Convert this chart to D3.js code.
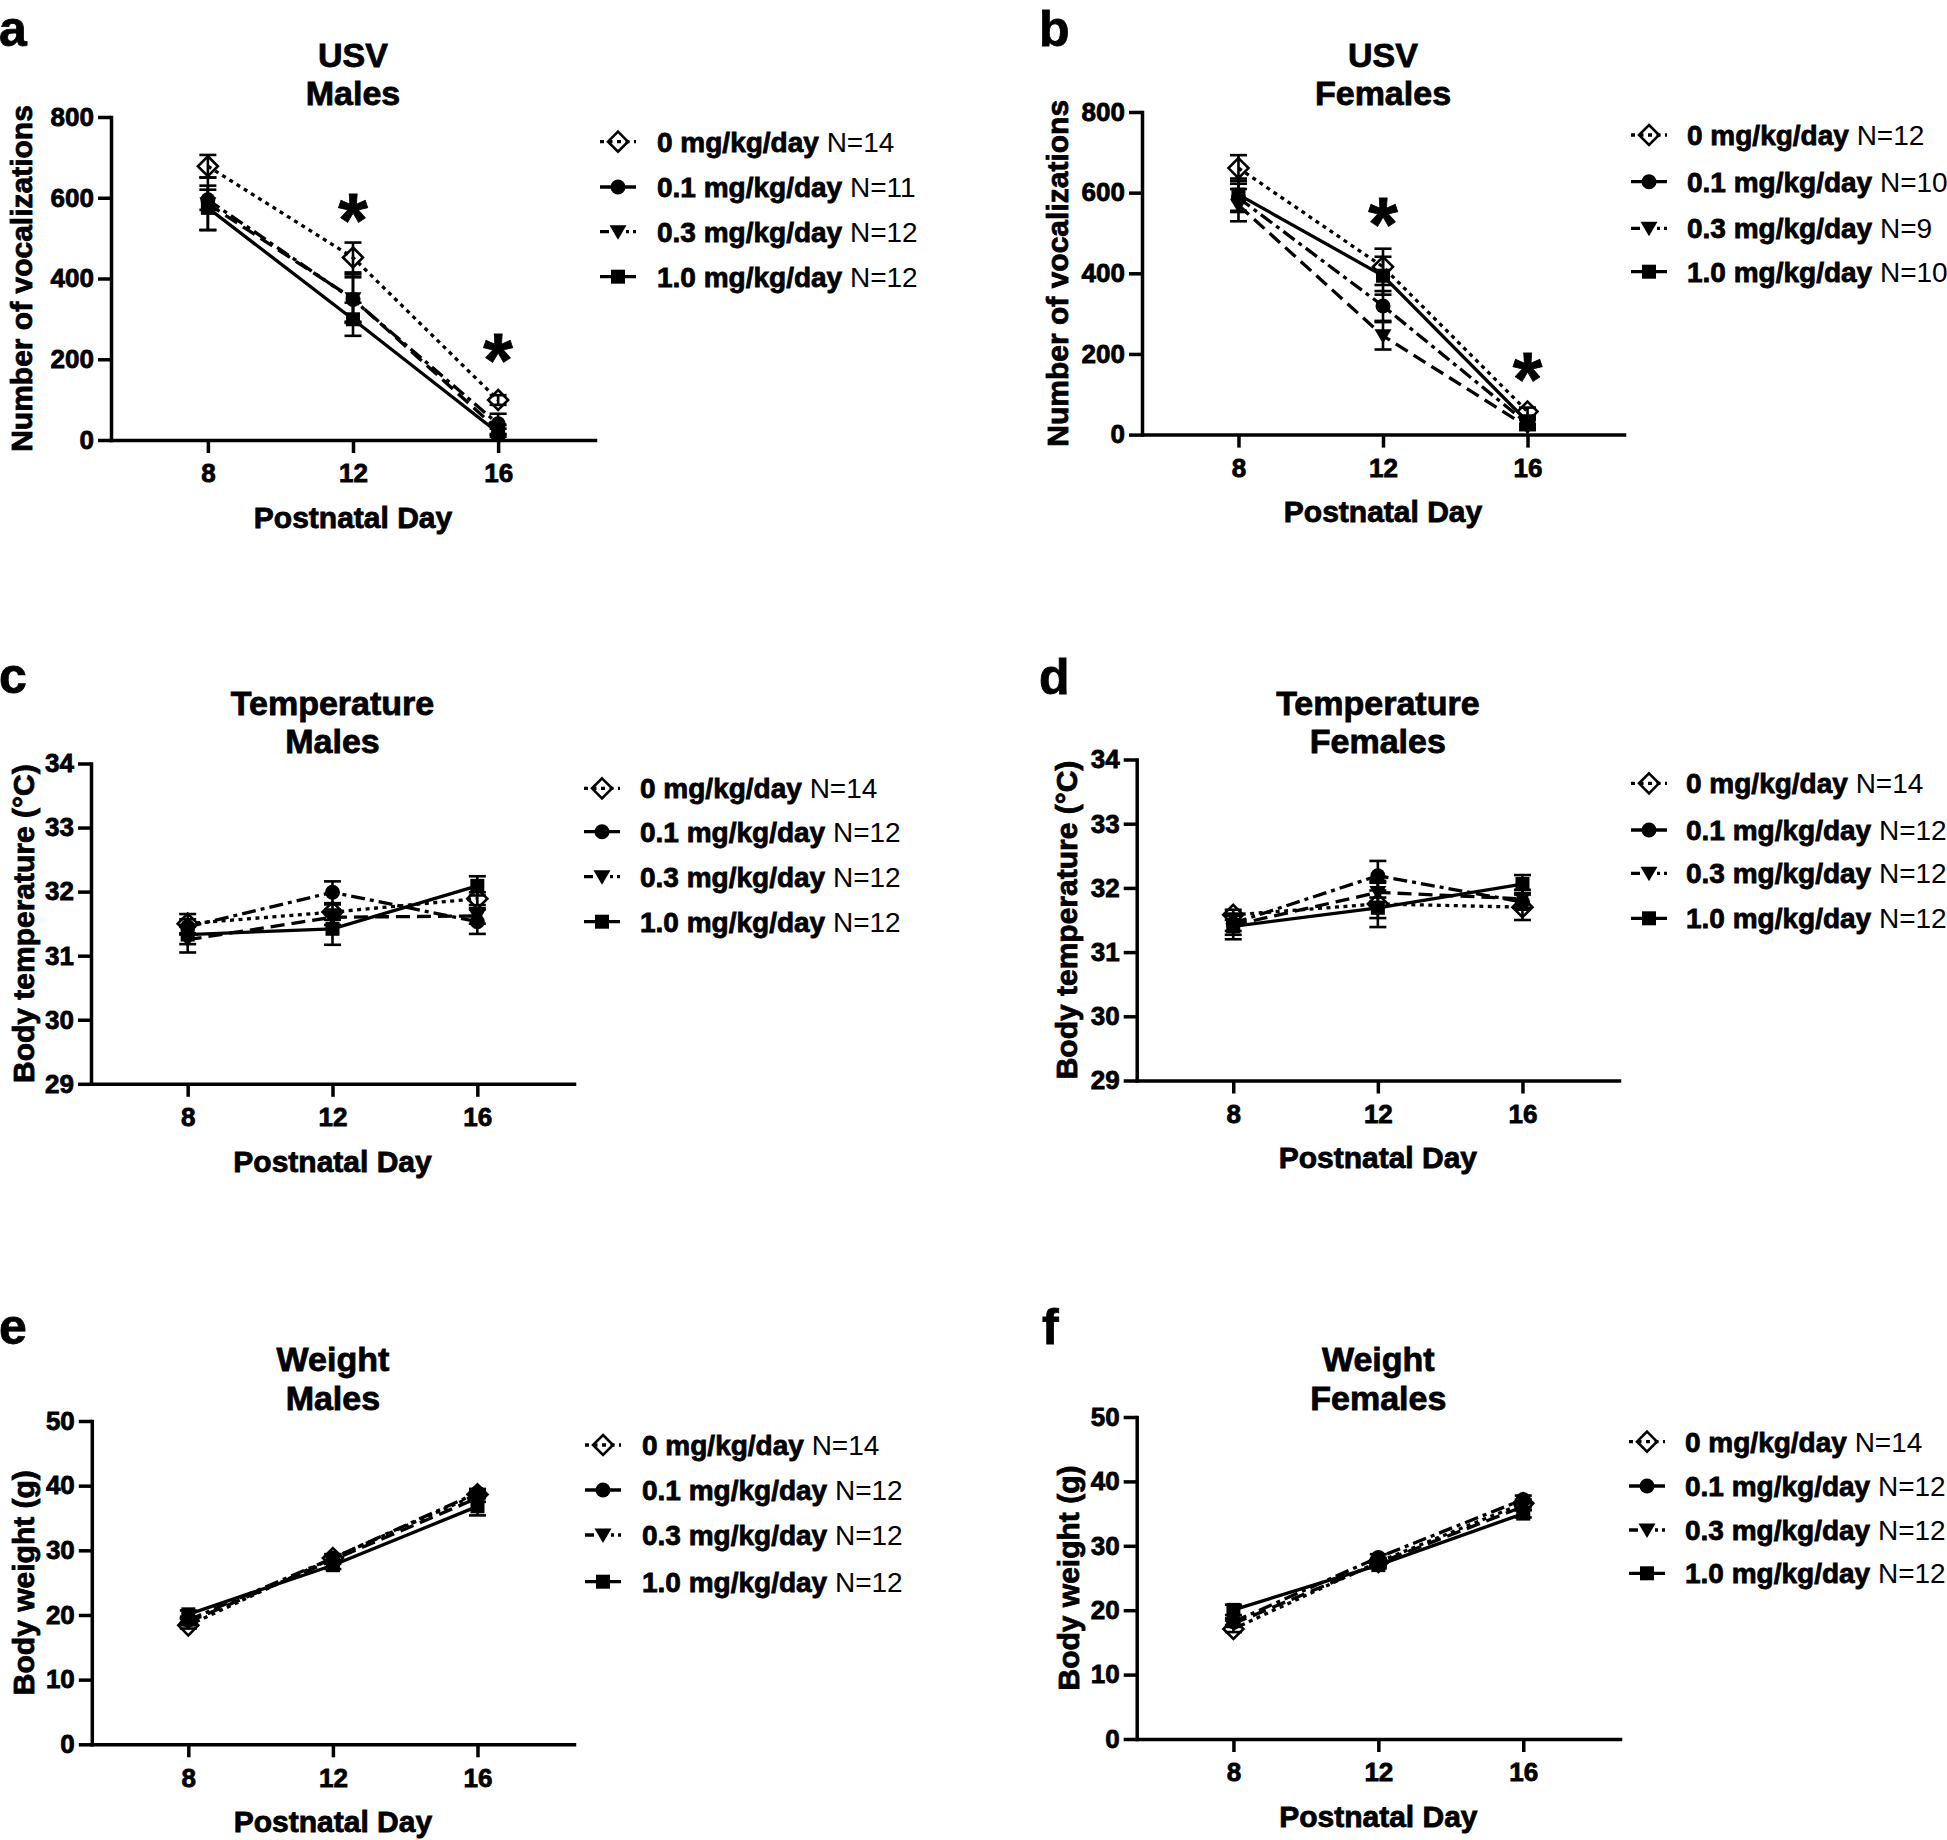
<!DOCTYPE html>
<html><head><meta charset="utf-8">
<script src="https://cdn.jsdelivr.net/npm/d3@7"></script>
<style>
body{margin:0;background:#fff}
svg{display:block}
text{font-family:"Liberation Sans",Arial,Helvetica,sans-serif;font-weight:bold;fill:#000;stroke:#000;stroke-width:0.8px}
tspan.reg{font-weight:normal;stroke-width:0}
</style>
</head><body>
<svg id="fig" width="1947" height="1840"></svg>
<script>
// ---------------- DATA ----------------
const days = [8, 12, 16];
const doseLabels = ["0 mg/kg/day", "0.1 mg/kg/day", "0.3 mg/kg/day", "1.0 mg/kg/day"];

const usvTicks = [0, 200, 400, 600, 800];
const tempTicks = [29, 30, 31, 32, 33, 34];
const weightTicks = [0, 10, 20, 30, 40, 50];

// a: USV males (mean, SEM per dose x day)
const usvMalesMean = [[678, 452, 99], [595, 348, 40], [585, 350, 25], [575, 299, 18]];
const usvMalesSem  = [[28, 37, 12], [25, 55, 25], [65, 60, 12], [55, 41, 10]];
const usvMalesN    = ["N=14", "N=11", "N=12", "N=12"];
const usvMalesStars = [[12, 575], [16, 228]];

// b: USV females
const usvFemalesMean = [[661, 416, 57], [587, 319, 27], [569, 245, 19], [595, 394, 32]];
const usvFemalesSem  = [[32, 45, 10], [35, 37, 10], [40, 34, 8], [40, 47, 10]];
const usvFemalesN    = ["N=12", "N=10", "N=9", "N=10"];
const usvFemalesStars = [[12, 552], [16, 167]];

// c: temperature males
const tempMalesMean = [[31.50, 31.68, 31.89], [31.45, 31.99, 31.53], [31.25, 31.60, 31.62], [31.33, 31.42, 32.09]];
const tempMalesSem  = [[0.15, 0.12, 0.10], [0.12, 0.17, 0.19], [0.20, 0.12, 0.12], [0.15, 0.25, 0.15]];
const tempMalesN    = ["N=14", "N=12", "N=12", "N=12"];

// d: temperature females
const tempFemalesMean = [[31.58, 31.75, 31.70], [31.45, 32.19, 31.78], [31.42, 31.93, 31.83], [31.40, 31.69, 32.06]];
const tempFemalesSem  = [[0.08, 0.36, 0.20], [0.12, 0.23, 0.12], [0.15, 0.15, 0.14], [0.20, 0.16, 0.14]];
const tempFemalesN    = ["N=14", "N=12", "N=12", "N=12"];

// e: weight males
const weightMalesMean = [[18.4, 28.8, 38.65], [19.2, 28.8, 38.9], [18.9, 28.5, 38.1], [20.1, 27.7, 36.8]];
const weightMalesSem  = [[0.5, 0.6, 0.6], [0.5, 0.6, 0.6], [0.5, 0.6, 0.6], [0.6, 0.6, 1.4]];
const weightMalesN    = ["N=14", "N=12", "N=12", "N=12"];

// f: weight females
const weightFemalesMean = [[17.1, 27.5, 36.6], [18.2, 28.2, 37.2], [17.9, 27.3, 36.1], [20.05, 27.0, 35.0]];
const weightFemalesSem  = [[0.5, 0.5, 0.6], [0.5, 0.5, 0.6], [0.5, 0.5, 0.6], [0.8, 0.5, 0.6]];
const weightFemalesN    = ["N=14", "N=12", "N=12", "N=12"];

// ---------------- STYLE / LAYOUT ----------------
const FONT_TICK = 26, FONT_AXIS = 30, FONT_TITLE = 34, FONT_LEG = 28, FONT_LETTER = 50, FONT_STAR = 76;
const seriesStyle = [
  {dash: "4,4.5",     marker: "diamond",  legDash: "4,4.5"},
  {dash: "14,5,4,5",  marker: "circle",   legDash: null},
  {dash: "14,7",      marker: "triangle", legDash: "9,17,3,4"},
  {dash: null,        marker: "square",   legDash: null}
];
const xDomain = [5.33, 18.67];

const panels = [
  {letter: "a", lx: -1, ly: 46, title: ["USV", "Males"], ty: [55, 93],
   yLabel: "Number of vocalizations", yLabOff: 90, yDomain: [0, 800], yTicks: usvTicks,
   x0: 111, xEnd: 595, yTop: 117, yBot: 440,
   mean: usvMalesMean, sem: usvMalesSem, n: usvMalesN, stars: usvMalesStars,
   leg: {sym: 618, text: 657, rows: [141.7, 187, 231.7, 276.7]}},
  {letter: "b", lx: 1039, ly: 46, title: ["USV", "Females"], ty: [55, 93],
   yLabel: "Number of vocalizations", yLabOff: 85, yDomain: [0, 800], yTicks: usvTicks,
   x0: 1142, xEnd: 1624, yTop: 112, yBot: 434.6,
   mean: usvFemalesMean, sem: usvFemalesSem, n: usvFemalesN, stars: usvFemalesStars,
   leg: {sym: 1649, text: 1687, rows: [135, 181.7, 228.3, 271.7]}},
  {letter: "c", lx: -1, ly: 693, title: ["Temperature", "Males"], ty: [703, 741],
   yLabel: "Body temperature (°C)", yLabOff: 68, yDomain: [29, 34], yTicks: tempTicks,
   x0: 91, xEnd: 574, yTop: 763.5, yBot: 1083.8,
   mean: tempMalesMean, sem: tempMalesSem, n: tempMalesN, stars: [],
   leg: {sym: 602, text: 640, rows: [788.3, 831.7, 876.7, 921.7]}},
  {letter: "d", lx: 1039, ly: 694, title: ["Temperature", "Females"], ty: [703, 741],
   yLabel: "Body temperature (°C)", yLabOff: 70, yDomain: [29, 34], yTicks: tempTicks,
   x0: 1136.7, xEnd: 1619, yTop: 759.5, yBot: 1080.5,
   mean: tempFemalesMean, sem: tempFemalesSem, n: tempFemalesN, stars: [],
   leg: {sym: 1649, text: 1686, rows: [783.3, 830, 873.3, 918.3]}},
  {letter: "e", lx: -1, ly: 1344, title: ["Weight", "Males"], ty: [1358.5, 1398],
   yLabel: "Body weight (g)", yLabOff: 69, yDomain: [0, 50], yTicks: weightTicks,
   x0: 91.8, xEnd: 574, yTop: 1421, yBot: 1744.3,
   mean: weightMalesMean, sem: weightMalesSem, n: weightMalesN, stars: [],
   leg: {sym: 603, text: 642, rows: [1445, 1490, 1535, 1581.7]}},
  {letter: "f", lx: 1042, ly: 1344, title: ["Weight", "Females"], ty: [1358.5, 1398],
   yLabel: "Body weight (g)", yLabOff: 68, yDomain: [0, 50], yTicks: weightTicks,
   x0: 1136.7, xEnd: 1620, yTop: 1417, yBot: 1739,
   mean: weightFemalesMean, sem: weightFemalesSem, n: weightFemalesN, stars: [],
   leg: {sym: 1647, text: 1685, rows: [1441.7, 1486, 1530, 1573.3]}}
];

// ---------------- DRAW ----------------
const svg = d3.select("#fig");
svg.append("rect").attr("width", 1947).attr("height", 1840).attr("fill", "#fff");

function drawMarker(g, type, cx, cy) {
  if (type === "diamond") {
    g.append("path").attr("d", `M${cx},${cy-10}L${cx+10},${cy}L${cx},${cy+10}L${cx-10},${cy}Z`)
      .attr("fill", "none").attr("stroke", "#000").attr("stroke-width", 2.6);
  } else if (type === "circle") {
    g.append("circle").attr("cx", cx).attr("cy", cy).attr("r", 7.5).attr("fill", "#000");
  } else if (type === "triangle") {
    g.append("path").attr("d", `M${cx-8.5},${cy-6.5}L${cx+8.5},${cy-6.5}L${cx},${cy+8}Z`).attr("fill", "#000");
  } else {
    g.append("rect").attr("x", cx-7).attr("y", cy-7).attr("width", 14).attr("height", 14).attr("fill", "#000");
  }
}

panels.forEach(p => {
  const g = svg.append("g");
  const x = d3.scaleLinear().domain(xDomain).range([p.x0, p.xEnd]);
  const y = d3.scaleLinear().domain(p.yDomain).range([p.yBot, p.yTop]);

  // panel letter
  g.append("text").attr("x", p.lx).attr("y", p.ly).attr("font-size", FONT_LETTER).text(p.letter);

  // title
  p.title.forEach((t, i) => {
    g.append("text").attr("x", x(12)).attr("y", p.ty[i]).attr("dy", "0.358em")
      .attr("text-anchor", "middle").attr("font-size", FONT_TITLE).text(t);
  });

  // axes
  const ya = g.append("g").attr("transform", `translate(${p.x0},0)`)
    .call(d3.axisLeft(y).tickValues(p.yTicks).tickSize(13).tickSizeOuter(0).tickPadding(4).tickFormat(d3.format("d")));
  const xa = g.append("g").attr("transform", `translate(0,${p.yBot})`)
    .call(d3.axisBottom(x).tickValues(days).tickSize(13).tickSizeOuter(0).tickPadding(11).tickFormat(d3.format("d")));
  [ya, xa].forEach(a => {
    a.attr("font-family", null).attr("font-size", null);
    a.select(".domain").attr("stroke-width", 3.5).attr("stroke-linecap", "square");
    a.selectAll(".tick line").attr("stroke-width", 3.5);
    a.selectAll(".tick text").attr("font-size", FONT_TICK).attr("fill", "#000");
  });

  // axis labels
  g.append("text").attr("x", x(12)).attr("y", p.yBot + 77).attr("dy", "0.358em")
    .attr("text-anchor", "middle").attr("font-size", FONT_AXIS).text("Postnatal Day");
  const cy = (p.yTop + p.yBot) / 2, cx = p.x0 - p.yLabOff;
  g.append("text").attr("transform", `translate(${cx},${cy}) rotate(-90)`).attr("dy", "0.358em")
    .attr("text-anchor", "middle").attr("font-size", FONT_AXIS).text(p.yLabel);

  // series lines
  const line = d3.line().x((d, i) => x(days[i])).y(d => y(d));
  p.mean.forEach((m, s) => {
    g.append("path").datum(m).attr("d", line).attr("fill", "none").attr("stroke", "#000")
      .attr("stroke-width", 3.3).attr("stroke-dasharray", seriesStyle[s].dash);
  });
  // error bars
  p.mean.forEach((m, s) => {
    m.forEach((v, i) => {
      const e = p.sem[s][i], xx = x(days[i]);
      const hi = y(v + e), lo = y(v - e);
      g.append("line").attr("x1", xx).attr("x2", xx).attr("y1", hi).attr("y2", lo)
        .attr("stroke", "#000").attr("stroke-width", 2.6);
      [hi, lo].forEach(yy => g.append("line").attr("x1", xx - 8.5).attr("x2", xx + 8.5)
        .attr("y1", yy).attr("y2", yy).attr("stroke", "#000").attr("stroke-width", 2.6));
    });
  });
  // markers
  p.mean.forEach((m, s) => {
    m.forEach((v, i) => drawMarker(g, seriesStyle[s].marker, x(days[i]), y(v)));
  });
  // significance stars
  p.stars.forEach(([d, v]) => {
    g.append("text").attr("x", x(d)).attr("y", y(v)).attr("dy", "0.5em")
      .attr("text-anchor", "middle").attr("font-size", FONT_STAR).text("*");
  });

  // legend
  doseLabels.forEach((lab, s) => {
    const ry = p.leg.rows[s], sx = p.leg.sym;
    g.append("line").attr("x1", sx - 18).attr("x2", sx + 18).attr("y1", ry).attr("y2", ry)
      .attr("stroke", "#000").attr("stroke-width", 3.3).attr("stroke-dasharray", seriesStyle[s].legDash);
    drawMarker(g, seriesStyle[s].marker, sx, ry);
    const t = g.append("text").attr("x", p.leg.text).attr("y", ry).attr("dy", "0.358em").attr("font-size", FONT_LEG);
    t.append("tspan").text(lab + " ");
    t.append("tspan").attr("class", "reg").text(p.n[s]);
  });
});
</script>
</body></html>
